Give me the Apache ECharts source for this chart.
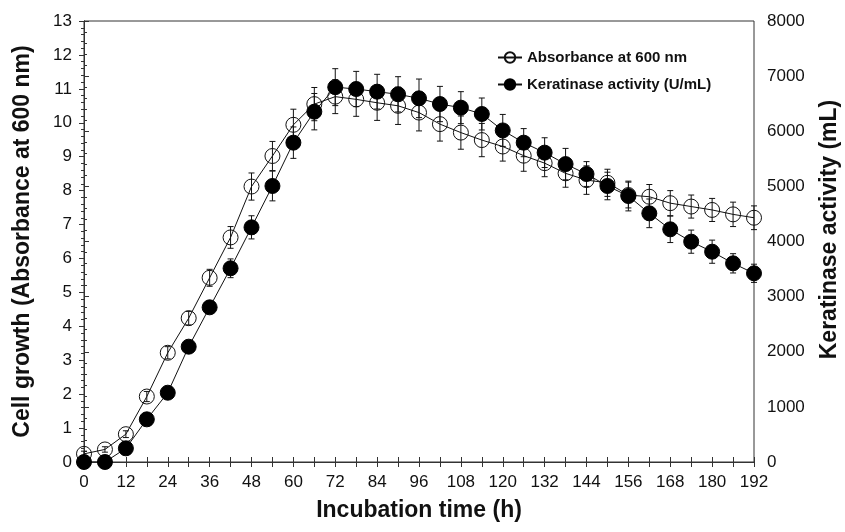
<!DOCTYPE html>
<html>
<head>
<meta charset="utf-8">
<script src="https://cdn.jsdelivr.net/npm/echarts@6/dist/echarts.min.js"></script>
<style>
  html, body { margin: 0; padding: 0; background: #fff; }
  #chart { width: 845px; height: 532px; }
</style>
</head>
<body>
<div id="chart"></div>
<script>
// incubation time (h)
var times = [0, 6, 12, 18, 24, 30, 36, 42, 48, 54, 60, 66, 72, 78, 84, 90, 96,
    102, 108, 114, 120, 126, 132, 138, 144, 150, 156, 162, 168, 174, 180, 186, 192];
// absorbance at 600 nm (left axis)
var absorbance = [0.24, 0.37, 0.82, 1.93, 3.22, 4.24, 5.43, 6.62, 8.12, 9.02, 9.94, 10.55, 10.77,
    10.69, 10.59, 10.50, 10.30, 9.96, 9.71, 9.49, 9.30, 9.03, 8.81, 8.51, 8.31, 8.23, 7.87, 7.82,
    7.63, 7.53, 7.43, 7.30, 7.20];
var absorbanceErr = [0.08, 0.08, 0.1, 0.15, 0.18, 0.2, 0.25, 0.32, 0.4, 0.43, 0.46, 0.49, 0.5,
    0.5, 0.52, 0.55, 0.54, 0.5, 0.49, 0.49, 0.43, 0.46, 0.4, 0.41, 0.42, 0.4, 0.38, 0.36,
    0.37, 0.34, 0.34, 0.36, 0.35];
// keratinase activity (right axis)
var keratinase = [0, 0, 248, 774, 1257, 2092, 2806, 3514, 4257, 5007, 5793, 6355, 6800,
    6766, 6718, 6670, 6597, 6494, 6428, 6313, 6015, 5793, 5612, 5404, 5224, 5007, 4825, 4511,
    4221, 3997, 3815, 3604, 3423];
var keratinaseErr = [30, 30, 50, 60, 70, 90, 110, 170, 210, 270, 285, 330, 335,
    320, 315, 320, 350, 320, 290, 290, 290, 255, 270, 285, 225, 250, 270, 260,
    240, 210, 210, 175, 165];

var FONT = '"Liberation Sans", Arial, sans-serif';

function pairs(vals) {
    return times.map(function (t, i) { return [t, vals[i]]; });
}
function errRows(vals, errs) {
    return times.map(function (t, i) { return [t, vals[i] - errs[i], vals[i] + errs[i]]; });
}
// 误差线
function errorBar(params, api) {
    var x = api.value(0);
    var top = api.coord([x, api.value(2)]);
    var bot = api.coord([x, api.value(1)]);
    var w = 3;
    var st = { stroke: '#111', lineWidth: 1 };
    return {
        type: 'group',
        children: [
            { type: 'line', shape: { x1: top[0], y1: top[1], x2: bot[0], y2: bot[1] }, style: st },
            { type: 'line', shape: { x1: top[0] - w, y1: top[1], x2: top[0] + w, y2: top[1] }, style: st },
            { type: 'line', shape: { x1: bot[0] - w, y1: bot[1], x2: bot[0] + w, y2: bot[1] }, style: st }
        ]
    };
}

var axisLineStyle = { color: '#333', width: 1 };
var labelStyle = { fontFamily: FONT, fontSize: 17, color: '#111' };
var titleStyle = { fontFamily: FONT, fontSize: 23, fontWeight: 'bold', color: '#111' };

var option = {
    animation: false,
    backgroundColor: '#fff',
    textStyle: { fontFamily: FONT },
    grid: {
        left: 84, right: 91, top: 21, bottom: 70,
        outerBoundsMode: 'none',
        show: true, borderColor: '#333', borderWidth: 1
    },
    legend: {
        orient: 'vertical',
        left: 492, top: 45,
        itemWidth: 24, itemHeight: 13, itemGap: 12,
        textStyle: { fontFamily: FONT, fontSize: 15, fontWeight: 'bold', color: '#111' },
        data: ['Absorbance at 600 nm', 'Keratinase activity (U/mL)']
    },
    xAxis: [{
        type: 'value', min: 0, max: 192, interval: 12,
        name: 'Incubation time (h)', nameLocation: 'middle', nameGap: 37,
        nameTextStyle: titleStyle,
        axisLine: { show: true, onZero: false, lineStyle: axisLineStyle },
        axisTick: { show: true, length: 5, lineStyle: axisLineStyle },
        minorTick: { show: true, splitNumber: 2, length: 5, lineStyle: axisLineStyle },
        axisLabel: Object.assign({ margin: 12 }, labelStyle),
        splitLine: { show: false }
    }, {
        type: 'value', min: 0, max: 192, interval: 12, position: 'bottom',
        axisLine: { show: false },
        axisTick: { show: true, inside: true, length: 5, lineStyle: axisLineStyle },
        minorTick: { show: true, splitNumber: 2, length: 5, lineStyle: axisLineStyle },
        axisLabel: { show: false },
        splitLine: { show: false }
    }],
    yAxis: [{
        type: 'value', min: 0, max: 13, interval: 1, position: 'left',
        name: 'Cell growth (Absorbance at 600 nm)', nameLocation: 'middle', nameGap: 50,
        nameTextStyle: titleStyle,
        axisLine: { show: true, lineStyle: axisLineStyle },
        axisTick: { show: true, length: 5, lineStyle: axisLineStyle },
        minorTick: { show: true, splitNumber: 5, length: 3, lineStyle: axisLineStyle },
        axisLabel: Object.assign({ margin: 12 }, labelStyle),
        splitLine: { show: false }
    }, {
        type: 'value', min: 0, max: 8000, interval: 1000, position: 'right',
        name: 'Keratinase activity (mL)', nameLocation: 'middle', nameGap: 64,
        nameRotate: 90,
        nameTextStyle: Object.assign({ padding: [0, 0, 0, 24] }, titleStyle),
        axisLine: { show: true, lineStyle: axisLineStyle },
        axisTick: { show: true, length: 5, lineStyle: axisLineStyle },
        minorTick: { show: true, splitNumber: 5, length: 3, lineStyle: axisLineStyle },
        axisLabel: Object.assign({ margin: 13, formatter: function (v) { return String(v); } }, labelStyle),
        splitLine: { show: false }
    }],
    series: [
        {
            name: 'Absorbance at 600 nm',
            type: 'line',
            xAxisIndex: 0, yAxisIndex: 0,
            data: pairs(absorbance),
            symbol: 'circle', symbolSize: 15,
            lineStyle: { color: '#111', width: 1 },
            itemStyle: { color: 'rgba(255,255,255,0)', borderColor: '#111', borderWidth: 1 },
            z: 3
        },
        {
            type: 'custom',
            xAxisIndex: 0, yAxisIndex: 0,
            renderItem: errorBar,
            encode: { x: 0, y: [1, 2] },
            data: errRows(absorbance, absorbanceErr),
            z: 4
        },
        {
            type: 'custom',
            xAxisIndex: 0, yAxisIndex: 1,
            renderItem: errorBar,
            encode: { x: 0, y: [1, 2] },
            data: errRows(keratinase, keratinaseErr),
            z: 4
        },
        {
            name: 'Keratinase activity (U/mL)',
            type: 'line',
            xAxisIndex: 0, yAxisIndex: 1,
            data: pairs(keratinase),
            symbol: 'circle', symbolSize: 15,
            lineStyle: { color: '#111', width: 1 },
            itemStyle: { color: '#000', borderColor: '#000', borderWidth: 1 },
            z: 5
        }
    ]
};

var chart = echarts.init(document.getElementById('chart'));
chart.setOption(option);
</script>
</body>
</html>
